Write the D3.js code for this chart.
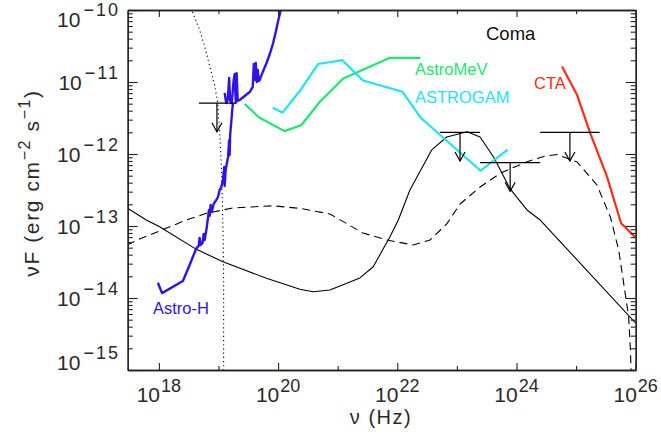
<!DOCTYPE html>
<html>
<head>
<meta charset="utf-8">
<script src="https://cdn.jsdelivr.net/npm/d3@7"></script>
<style>
  body { margin: 0; background: #fff; }
  svg { display: block; }
  text { font-family: "Liberation Sans", Arial, Helvetica, sans-serif; }
</style>
</head>
<body>
<svg id="chart" width="661" height="439"></svg>
<script>
// ---- axis ticks ----
const xMajorTicks = [1e18, 1e20, 1e22, 1e24, 1e26];
const xMajorExps = ["18", "20", "22", "24", "26"];
const xMinorTicks = [1e19, 1e21, 1e23, 1e25];
const yMajorTicks = [1e-10, 1e-11, 1e-12, 1e-13, 1e-14, 1e-15];
const yMajorExps = ["10", "11", "12", "13", "14", "15"];

// ---- Coma: model spectra [nu (Hz), nuF (erg cm^-2 s^-1)] ----
const modelSolid = [
  [2.94e17, 1.78e-13], [6.14e17, 1.21e-13], [1.03e18, 9.77e-14], [4.26e18, 4.74e-14],
  [1.19e19, 3.19e-14], [6.38e19, 1.88e-14], [2.32e20, 1.32e-14], [3.87e20, 1.22e-14],
  [7.40e20, 1.29e-14], [2.36e21, 1.90e-14], [3.95e21, 2.72e-14], [7.53e21, 7.10e-14],
  [1.04e22, 1.21e-13], [1.63e22, 3.16e-13], [3.78e22, 1.14e-12], [6.76e22, 1.72e-12],
  [1.48e23, 2.04e-12], [2.45e23, 1.72e-12], [4.22e23, 8.79e-13], [7.83e23, 3.27e-13],
  [1.50e24, 1.67e-13], [2.50e24, 1.21e-13], [1.00e26, 4.47e-15]
];
const modelDashed = [
  [2.94e17, 5.45e-14], [4.74e17, 6.59e-14], [1.03e18, 8.53e-14], [2.88e18, 1.21e-13],
  [6.27e18, 1.50e-13], [1.73e19, 1.78e-13], [8.15e19, 1.91e-13], [2.32e20, 1.76e-13],
  [7.40e20, 1.47e-13], [2.65e21, 8.0e-14], [6.64e21, 6.40e-14], [1.86e22, 5.45e-14],
  [3.55e22, 6.40e-14], [6.76e22, 1.07e-13], [1.13e23, 2.02e-13], [2.45e23, 3.48e-13],
  [5.32e23, 5.40e-13], [1.50e24, 7.82e-13], [3.03e24, 9.38e-13], [4.78e24, 9.84e-13],
  [1.04e25, 7.74e-13], [2.24e25, 3.71e-13], [3.76e25, 1.33e-13], [5.18e25, 4.65e-14],
  [6.28e25, 1.61e-14], [7.62e25, 5.45e-15], [8.15e25, 1.90e-15], [8.37e25, 1.0e-15],
  [8.45e25, 5.0e-16]
];
const thermalDotted = [
  [3.16e18, 1.38e-10], [3.55e18, 1.0e-10], [4.83e18, 5.28e-11], [6.10e18, 2.78e-11],
  [7.39e18, 1.47e-11], [8.63e18, 9.08e-12], [9.71e18, 5.11e-12], [1.05e19, 1.96e-12],
  [1.12e19, 6.59e-13], [1.16e19, 2.30e-13], [1.20e19, 6.40e-14], [1.22e19, 1.78e-14],
  [1.22e19, 7.0e-16]
];

// ---- instrument sensitivities ----
const astroHHXI = [
  [9.62e17, 1.63e-14], [1.13e18, 1.17e-14], [2.53e18, 1.72e-14], [3.28e18, 2.87e-14],
  [4.25e18, 4.90e-14], [4.65e18, 5.28e-14], [4.83e18, 6.81e-14], [5.02e18, 5.45e-14],
  [5.42e18, 5.81e-14], [5.64e18, 7.74e-14], [5.86e18, 6.40e-14], [6.26e18, 8.80e-14],
  [6.66e18, 1.29e-13], [6.92e18, 1.67e-13], [7.11e18, 1.38e-13], [7.39e18, 1.96e-13],
  [7.69e18, 1.56e-13], [8.30e18, 2.02e-13], [9.22e18, 2.30e-13], [9.81e18, 2.53e-13],
  [1.047e19, 3.16e-13], [1.12e19, 3.51e-13], [1.19e19, 4.35e-13], [1.25e19, 6.6e-13],
  [1.27e19, 3.6e-13], [1.32e19, 6.0e-13], [1.45e19, 9.18e-13], [1.51e19, 1.56e-12],
  [1.54e19, 9.68e-13], [1.57e19, 1.84e-12], [1.65e19, 2.97e-12], [1.70e19, 4.09e-12],
  [1.75e19, 5.06e-12]
];
const astroHSGD = [
  [1.27e19, 7.03e-12], [1.35e19, 5.11e-12], [1.43e19, 5.62e-12], [1.51e19, 1.14e-11],
  [1.57e19, 5.45e-12], [1.67e19, 5.11e-12], [1.80e19, 1.07e-11], [1.87e19, 1.29e-11],
  [1.95e19, 5.11e-12], [2.02e19, 1.33e-11], [2.10e19, 5.45e-12], [2.27e19, 5.62e-12],
  [2.75e19, 6.40e-12], [3.34e19, 7.26e-12], [3.76e19, 8.53e-12], [3.91e19, 1.78e-11],
  [4.06e19, 1.07e-11], [4.22e19, 1.84e-11], [4.39e19, 1.0e-11], [4.56e19, 1.47e-11],
  [4.74e19, 1.03e-11], [4.92e19, 1.07e-11], [5.53e19, 1.38e-11], [6.38e19, 1.82e-11],
  [7.26e19, 2.45e-11], [8.24e19, 3.45e-11], [9.15e19, 4.95e-11], [1.0e20, 7.03e-11],
  [1.07e20, 8.8e-11], [1.15e20, 1.14e-10]
];
const astroMeV = [
  [2.76e19, 4.95e-12], [4.83e19, 3.21e-12], [1.28e20, 2.08e-12], [2.47e20, 2.53e-12],
  [5.02e20, 5.32e-12], [1.24e21, 1.12e-11], [7.53e21, 2.17e-11], [2.45e22, 2.17e-11]
];
const astrogam = [
  [8.15e19, 4.40e-12], [1.19e20, 3.75e-12], [2.45e20, 8.0e-12], [4.70e20, 1.78e-11],
  [1.20e21, 2.01e-11], [2.65e21, 1.05e-11], [1.22e22, 7.33e-12], [2.50e22, 3.16e-12],
  [2.50e23, 5.86e-13], [7.11e23, 1.15e-12]
];
const cta = [
  [5.80e24, 1.64e-11], [1.04e25, 6.59e-12], [1.73e25, 1.94e-12], [3.30e25, 4.84e-13],
  [5.69e25, 1.09e-13], [1.0e26, 6.9e-14]
];

// ---- upper limits: band edges and flux ----
const ulNuLo = [4.7e18, 5.2e22, 2.45e23, 2.5e24];
const ulNuHi = [1.89e19, 2.45e23, 2.5e24, 2.48e25];
const ulFlux = [5.1e-12, 2.0e-12, 7.6e-13, 2.0e-12];

// ---- layout ----
const svg = d3.select("#chart");
const plotL = 127.7, plotR = 635.7, plotT = 10, plotB = 370;
const ink = "#222";

const x = d3.scaleLog().domain([3e17, 1e26]).range([plotL, plotR]);
const y = d3.scaleLog().domain([1e-15, 1e-10]).range([plotB, plotT]);

svg.append("clipPath").attr("id", "plotClip")
  .append("rect").attr("x", plotL).attr("y", plotT)
  .attr("width", plotR - plotL).attr("height", plotB - plotT);

const plot = svg.append("g").attr("clip-path", "url(#plotClip)");
const line = d3.line().x(d => x(d[0])).y(d => y(d[1]));

function drawSeries(data, color, width, dash) {
  plot.append("path").datum(data)
    .attr("d", line)
    .attr("fill", "none")
    .attr("stroke", color)
    .attr("stroke-width", width)
    .attr("stroke-linejoin", "round")
    .attr("stroke-dasharray", dash || null);
}

const cBlue = "#3014e6", cGreen = "#1ee66e", cCyan = "#1ee4f2", cRed = "#ff2d14";

drawSeries(modelSolid, "#000", 1.1);
drawSeries(modelDashed, "#000", 1.1, "8,5");
drawSeries(thermalDotted, "#000", 1.1, "1.2,3");
drawSeries(astroMeV, cGreen, 2.2);
drawSeries(astrogam, cCyan, 2.2);
drawSeries(cta, cRed, 2.2);
drawSeries(astroHHXI, cBlue, 2.4);
drawSeries(astroHSGD, cBlue, 2.4);

// upper-limit bars with downward arrows
const ul = ulFlux.map((f, i) => ({ lo: ulNuLo[i], hi: ulNuHi[i], f, mid: Math.sqrt(ulNuLo[i] * ulNuHi[i]) }));
const ulG = svg.append("g").attr("stroke", "#000").attr("stroke-width", 1.2).attr("fill", "none");
ul.forEach(d => {
  const yb = y(d.f), yt = y(d.f / 2.5), xm = x(d.mid);
  ulG.append("line").attr("x1", x(d.lo)).attr("x2", x(d.hi)).attr("y1", yb).attr("y2", yb);
  ulG.append("line").attr("x1", xm).attr("x2", xm).attr("y1", yb).attr("y2", yt);
  ulG.append("polyline").attr("points", `${xm - 5},${yt - 9} ${xm},${yt} ${xm + 5},${yt - 9}`);
});

// ---- axes (box with ticks on all four sides) ----
function styleAxis(g) {
  g.select(".domain").attr("stroke", ink).attr("stroke-width", 1.3);
  g.selectAll(".tick line").attr("stroke", ink).attr("stroke-width", 1.1);
  g.selectAll(".tick text").remove();
}
const noLabel = () => "";
svg.append("g").attr("transform", `translate(0,${plotB})`)
  .call(d3.axisBottom(x).tickValues(xMajorTicks).tickSize(-7).tickSizeOuter(0).tickFormat(noLabel)).call(styleAxis);
svg.append("g").attr("transform", `translate(0,${plotB})`)
  .call(d3.axisBottom(x).tickValues(xMinorTicks).tickSize(-4).tickSizeOuter(0).tickFormat(noLabel)).call(styleAxis);
svg.append("g").attr("transform", `translate(0,${plotT})`)
  .call(d3.axisTop(x).tickValues(xMajorTicks).tickSize(-7).tickSizeOuter(0).tickFormat(noLabel)).call(styleAxis);
svg.append("g").attr("transform", `translate(0,${plotT})`)
  .call(d3.axisTop(x).tickValues(xMinorTicks).tickSize(-4).tickSizeOuter(0).tickFormat(noLabel)).call(styleAxis);

const yMinorTicks = [];
yMajorTicks.slice(1).forEach(p => { for (let k = 2; k <= 9; k++) yMinorTicks.push(p * k); });
svg.append("g").attr("transform", `translate(${plotL},0)`)
  .call(d3.axisLeft(y).tickValues(yMajorTicks).tickSize(-10).tickSizeOuter(0).tickFormat(noLabel)).call(styleAxis);
svg.append("g").attr("transform", `translate(${plotL},0)`)
  .call(d3.axisLeft(y).tickValues(yMinorTicks).tickSize(-5).tickSizeOuter(0).tickFormat(noLabel)).call(styleAxis);
svg.append("g").attr("transform", `translate(${plotR},0)`)
  .call(d3.axisRight(y).tickValues(yMajorTicks).tickSize(-10).tickSizeOuter(0).tickFormat(noLabel)).call(styleAxis);
svg.append("g").attr("transform", `translate(${plotR},0)`)
  .call(d3.axisRight(y).tickValues(yMinorTicks).tickSize(-5).tickSizeOuter(0).tickFormat(noLabel)).call(styleAxis);

// ---- tick labels: 10^n ----
const labelColor = "#2a2a2a";
xMajorTicks.forEach((v, i) => {
  const t = svg.append("text").attr("x", x(v)).attr("y", 402)
    .attr("text-anchor", "middle").attr("fill", labelColor);
  t.append("tspan").attr("font-size", 21).text("10");
  t.append("tspan").attr("font-size", 18).attr("dy", -10).attr("dx", 1).text(xMajorExps[i]);
});
yMajorTicks.forEach((v, i) => {
  // end labels are nudged inward so they stay within the frame height
  const shift = v === 1e-10 ? 17 : (v === 1e-15 ? 0 : 8.4);
  const t = svg.append("text").attr("x", 120).attr("y", y(v) + shift)
    .attr("text-anchor", "end").attr("fill", labelColor);
  t.append("tspan").attr("font-size", 21).text("10");
  t.append("tspan").attr("font-size", 18).attr("dy", -11).attr("dx", 3)
    .attr("letter-spacing", 2).text("\u2212" + yMajorExps[i]);
});

// ---- axis titles ----
const xt = svg.append("text").attr("x", 381).attr("y", 424).attr("text-anchor", "middle")
  .attr("fill", labelColor).attr("font-size", 20).attr("letter-spacing", 1.5);
xt.text("\u03bd (Hz)");

const ytl = svg.append("text").attr("transform", "translate(39,183) rotate(-90)")
  .attr("text-anchor", "middle").attr("fill", labelColor).attr("font-size", 21)
  .attr("letter-spacing", 1.6);
ytl.append("tspan").text("\u03bdF (erg cm");
ytl.append("tspan").attr("font-size", 16).attr("dy", -9).text("\u22122");
ytl.append("tspan").attr("dy", 9).text(" s");
ytl.append("tspan").attr("font-size", 16).attr("dy", -9).text("\u22121");
ytl.append("tspan").attr("dy", 9).text(")");

// ---- annotations ----
svg.append("text").attr("x", 486).attr("y", 40).attr("font-size", 18.5).attr("fill", "#111").text("Coma");
svg.append("text").attr("x", 415).attr("y", 75).attr("font-size", 16.5).attr("fill", cGreen).text("AstroMeV");
svg.append("text").attr("x", 415).attr("y", 103).attr("font-size", 16.5).attr("fill", cCyan).text("ASTROGAM");
svg.append("text").attr("x", 534).attr("y", 89).attr("font-size", 16.5).attr("fill", cRed).text("CTA");
svg.append("text").attr("x", 153).attr("y", 314).attr("font-size", 16.5).attr("fill", cBlue).text("Astro-H");
</script>
</body>
</html>
